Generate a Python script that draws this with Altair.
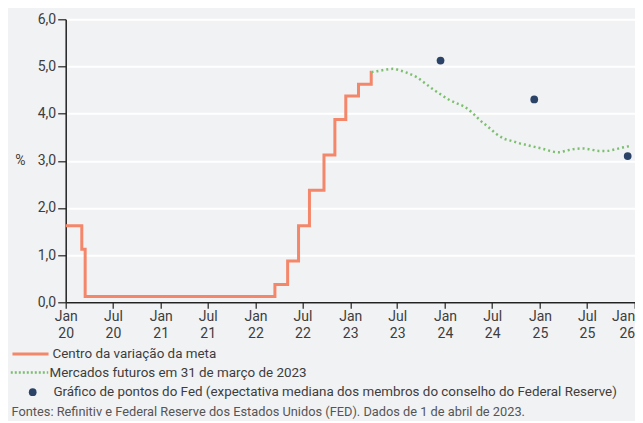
import altair as alt
import pandas as pd

# Centro da variação da meta (Fed funds target range midpoint)
rate_dates = ["2020-01-01", "2020-03-03", "2020-03-16", "2022-03-17", "2022-05-05",
              "2022-06-16", "2022-07-28", "2022-09-22", "2022-11-03", "2022-12-15",
              "2023-02-02", "2023-03-23", "2023-03-24"]
rate_values = [1.625, 1.125, 0.125, 0.375, 0.875, 1.625, 2.375, 3.125, 3.875, 4.375,
               4.625, 4.875, 4.875]

# Mercados futuros em 31 de março de 2023
fut_dates = ["2023-03-24", "2023-04-15", "2023-05-15", "2023-06-15", "2023-07-15",
             "2023-08-15", "2023-09-15", "2023-10-15", "2023-11-15", "2023-12-15",
             "2024-01-15", "2024-02-15", "2024-03-15", "2024-04-15", "2024-05-15",
             "2024-06-15", "2024-07-15", "2024-08-15", "2024-09-15", "2024-10-15",
             "2024-11-15", "2024-12-15", "2025-01-15", "2025-02-15", "2025-03-15",
             "2025-04-15", "2025-05-15", "2025-06-15", "2025-07-15", "2025-08-15",
             "2025-09-15", "2025-10-15", "2025-11-15", "2025-12-10"]
fut_values = [4.88, 4.90, 4.93, 4.95, 4.91, 4.85, 4.77, 4.65, 4.52, 4.41,
              4.30, 4.22, 4.15, 4.02, 3.86, 3.72, 3.58, 3.47, 3.42, 3.37,
              3.33, 3.29, 3.25, 3.20, 3.18, 3.22, 3.25, 3.26, 3.24, 3.21,
              3.21, 3.24, 3.28, 3.31]

# Gráfico de pontos do Fed
dot_dates = ["2023-12-15", "2024-12-10", "2025-12-05"]
dot_values = [5.125, 4.3, 3.1]

lbl_rate = "Centro da variação da meta"
lbl_fut = "Mercados futuros em 31 de março de 2023"
lbl_dot = "Gráfico de pontos do Fed (expectativa mediana dos membros do conselho do Federal Reserve)"
fonte = "Fontes: Refinitiv e Federal Reserve dos Estados Unidos (FED). Dados de 1 de abril de 2023."

df_rate = pd.DataFrame({"data": rate_dates, "valor": rate_values, "serie": lbl_rate})
df_fut = pd.DataFrame({"data": fut_dates, "valor": fut_values, "serie": lbl_fut})
df_dot = pd.DataFrame({"data": dot_dates, "valor": dot_values, "serie": lbl_dot})

FONT = "Roboto"
TXT = "#3d3d3d"
LEG_FS = 13.4

x_ticks = []
for yr in range(2020, 2027):
    x_ticks.append(alt.DateTime(year=yr, month=1, date=1, utc=True))
    if yr < 2026:
        x_ticks.append(alt.DateTime(year=yr, month=7, date=1, utc=True))

x_enc = alt.X(
    "data:T",
    title=None,
    scale=alt.Scale(type="utc", domain=[alt.DateTime(year=2020, month=1, date=1, utc=True),
                                        alt.DateTime(year=2026, month=1, date=1, utc=True)]),
    axis=alt.Axis(values=x_ticks,
                  labelExpr="[utcFormat(datum.value, '%b'), utcFormat(datum.value, '%y')]",
                  labelAlign={"condition": {"test": "utcyear(datum.value) >= 2026",
                                            "value": "right"},
                              "value": "center"},
                  grid=False, tickSize=6, tickColor="#222", tickWidth=1.2,
                  domainColor="#222", domainWidth=1.5,
                  labelFont=FONT, labelFontSize=14, labelColor=TXT, labelLineHeight=17,
                  labelPadding=1, labelFlush=False, labelOverlap=False),
)
y_enc = alt.Y(
    "valor:Q",
    scale=alt.Scale(domain=[0, 6], nice=False),
    axis=alt.Axis(values=[0, 1, 2, 3, 4, 5, 6],
                  labelExpr="replace(format(datum.value, '.1f'), '.', ',')",
                  title="%", titleAngle=0, titleX=-45.7, titleY=140.7,
                  titleAlign="center", titleBaseline="middle", titleFontWeight="normal",
                  titleFont=FONT, titleFontSize=14, titleColor=TXT,
                  tickSize=8, tickColor="#222", tickWidth=1.2, labelPadding=2,
                  domainColor="#222", domainWidth=1.5,
                  grid=True, gridColor="#ffffff", gridWidth=2,
                  labelFont=FONT, labelFontSize=14, labelColor=TXT),
)

def leg(x, y, **kw):
    return alt.Legend(orient="none", legendX=x, legendY=y, title=None,
                      labelFont=FONT, labelFontSize=LEG_FS, labelColor=TXT,
                      labelLimit=800, **kw)

rate = alt.Chart(df_rate).mark_line(interpolate="step-after", strokeWidth=3).encode(
    x=x_enc, y=y_enc,
    color=alt.Color("serie:N", scale=alt.Scale(range=["#f4866a"]),
                    legend=leg(-55.2, 314.7, symbolType="stroke", symbolSize=1300,
                               symbolStrokeWidth=3, labelOffset=2)),
)

fut = alt.Chart(df_fut).mark_line(interpolate="monotone", strokeWidth=2.5,
                                  strokeDash=[2, 3]).encode(
    x=x_enc, y=y_enc,
    color=alt.Color("serie:N", scale=alt.Scale(range=["#7cbf6e"]),
                    legend=leg(-56.2, 333.2, symbolType="stroke", symbolSize=1400,
                               symbolStrokeWidth=2.5, symbolDash=[2, 2], labelOffset=0)),
)

dots = alt.Chart(df_dot).mark_circle(size=60, opacity=1).encode(
    x=x_enc, y=y_enc,
    color=alt.Color("serie:N", scale=alt.Scale(range=["#2b4366"]),
                    legend=leg(-39.7, 366.2, symbolType="circle", symbolSize=60,
                               symbolOpacity=1, labelOffset=14)),
)

src = alt.Chart(pd.DataFrame({"t": [fonte]})).mark_text(
    align="left", baseline="middle", font=FONT, fontSize=12.8, color="#555555"
).encode(x=alt.value(-54.2), y=alt.value(392.5), text="t:N")

chart = alt.layer(rate, fut, dots, src).resolve_scale(color="independent").properties(
    width=569, height=283,
    autosize=alt.AutoSizeParams(type="none"),
    padding={"left": 57.7, "top": 11.3, "right": 0.3, "bottom": 118.7},
    background="#f1f2f4",
).configure_view(strokeWidth=0)

chart.save("out.html", embed_options={"renderer": "svg", "actions": False})
